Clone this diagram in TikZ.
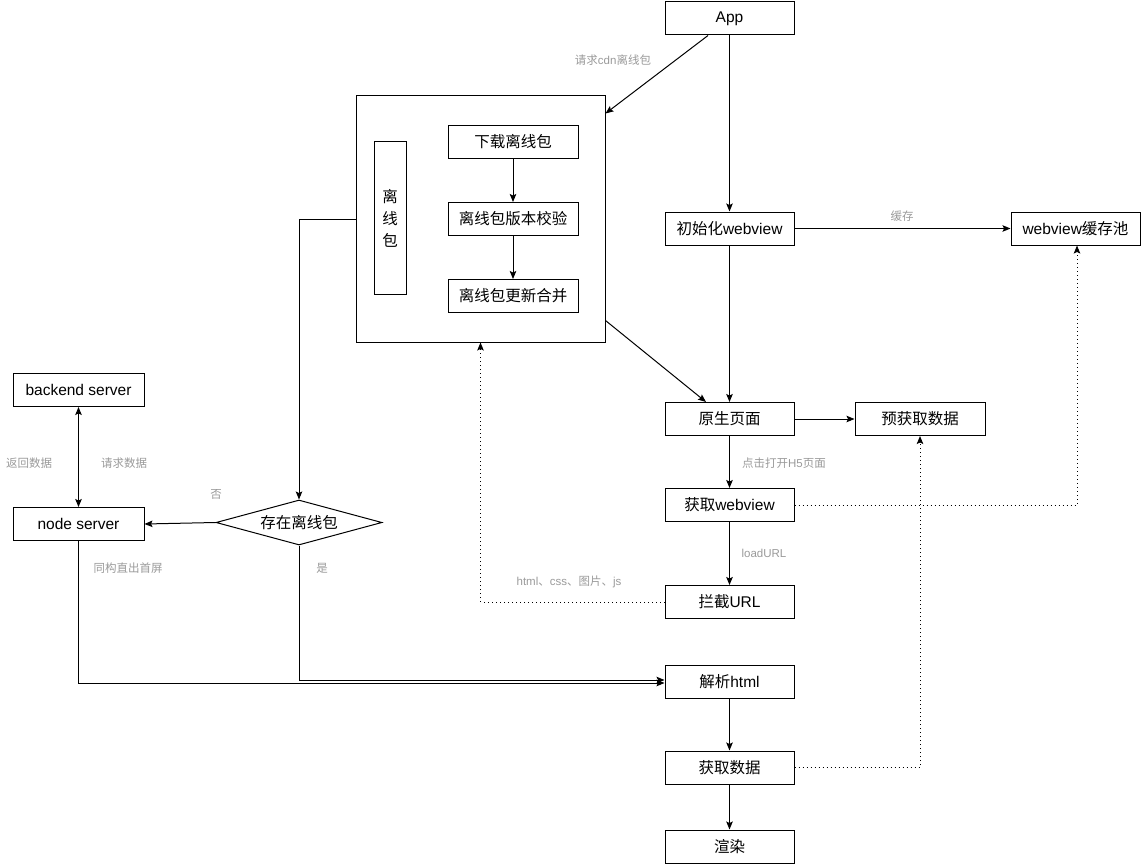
\documentclass[tikz,border=0pt]{standalone}
\usepackage{fontspec}
\setmainfont{Liberation Sans}
\newfontfamily\cjk{Noto Sans CJK SC}
\usetikzlibrary{arrows.meta,shapes.geometric}
\definecolor{lblgray}{HTML}{9A9A9A}
\begin{document}
\begin{tikzpicture}[x=1pt,y=-1pt,
  box/.style={draw,line width=1pt,minimum width=129pt,minimum height=33pt,inner sep=0pt,font=\fontsize{15.5}{18}\selectfont},
  arr/.style={line width=1pt,-{Stealth[length=8pt,width=6.5pt,inset=1.5pt]}},
  dual/.style={line width=1pt,{Stealth[length=8pt,width=6.5pt,inset=1.5pt]}-{Stealth[length=8pt,width=6.5pt,inset=1.5pt]}},
  dots/.style={line width=1pt,dash pattern=on 1pt off 3pt},
  lbl/.style={text=lblgray,font=\fontsize{11.5}{13}\selectfont,inner sep=0pt}]
\useasboundingbox (0,0) rectangle (1142,864);
% nodes
\node[box] (app) at (729.5,18.5) {App};
\node[draw,line width=1pt,minimum width=249pt,minimum height=246pt,inner sep=0pt] (cont) at (480.5,219) {};
\node[draw,line width=1pt,minimum width=32pt,minimum height=153pt,inner sep=0pt,align=center,font=\fontsize{15.5}{22}\selectfont\cjk] (pkg) at (390,218) {离\\线\\包};
\node[box,minimum width=130pt,font=\fontsize{15.5}{18}\selectfont\cjk] (dl) at (513,142) {下载离线包};
\node[box,minimum width=130pt,font=\fontsize{15.5}{18}\selectfont\cjk] (ver) at (513,219) {离线包版本校验};
\node[box,minimum width=130pt,font=\fontsize{15.5}{18}\selectfont\cjk] (merge) at (513,296) {离线包更新合并};
\node[box] (init) at (729.5,228.5) {{\cjk 初始化}webview};
\node[box] (pool) at (1075.5,228.5) {webview{\cjk 缓存池}};
\node[box,font=\fontsize{15.5}{18}\selectfont\cjk] (native) at (729.5,419) {原生页面};
\node[box,minimum width=130pt,font=\fontsize{15.5}{18}\selectfont\cjk] (prefetch) at (920,419) {预获取数据};
\node[box] (getwv) at (729.5,505) {{\cjk 获取}webview};
\node[box] (intercept) at (729.5,602) {{\cjk 拦截}URL};
\node[box] (html) at (729.5,682) {{\cjk 解析}html};
\node[box,font=\fontsize{15.5}{18}\selectfont\cjk] (getdata) at (729.5,767.5) {获取数据};
\node[box,font=\fontsize{15.5}{18}\selectfont\cjk] (render) at (729.5,846.5) {渲染};
\node[box,minimum width=131pt] (backend) at (78.5,390) {backend server};
\node[box,minimum width=131pt] (nodes) at (78.5,524) {node server};
\node[draw,line width=1pt,diamond,aspect=3.69,minimum width=166pt,minimum height=45pt,inner sep=0pt,font=\fontsize{15.5}{18}\selectfont\cjk] (dia) at (299,522.5) {存在离线包};
% labels
\node[lbl] (l1) at (613,60) {{\cjk 请求}cdn{\cjk 离线包}};
\node[lbl,font=\fontsize{11.5}{13}\selectfont\cjk] (l2) at (902,216) {缓存};
\node[lbl] (l3) at (784,463) {{\cjk 点击打开}H5{\cjk 页面}};
\node[lbl] (l4) at (764,553) {loadURL};
\node[lbl] (l5) at (569,582) {html{\cjk 、}css{\cjk 、图片、}js};
\node[lbl,font=\fontsize{11.5}{13}\selectfont\cjk] (l6) at (29,463) {返回数据};
\node[lbl,font=\fontsize{11.5}{13}\selectfont\cjk] (l7) at (124,463) {请求数据};
\node[lbl,font=\fontsize{11.5}{13}\selectfont\cjk] (l8) at (216,494) {否};
\node[lbl,font=\fontsize{11.5}{13}\selectfont\cjk] (l9) at (128,568) {同构直出首屏};
\node[lbl,font=\fontsize{11.5}{13}\selectfont\cjk] (l10) at (322,568) {是};
% connectors
\draw[arr] ([xshift=-21.5pt]app.south) -- ([yshift=-18pt]cont.north east);
\draw[arr] (app.south) -- (init.north);
\draw[arr] (dl.south) -- (ver.north);
\draw[arr] (ver.south) -- (merge.north);
\draw[arr] (init.south) -- (native.north);
\draw[arr] ([yshift=22pt]cont.south east) -- ([xshift=-23.5pt]native.north);
\draw[arr] (init.east) -- (pool.west);
\draw[arr] (native.east) -- (prefetch.west);
\draw[arr] (native.south) -- (getwv.north);
\draw[arr] (getwv.south) -- (intercept.north);
\draw[arr] (html.south) -- (getdata.north);
\draw[arr] (getdata.south) -- (render.north);
\draw[arr,dots] (getwv.east) -| ([xshift=1.5pt]pool.south);
\draw[arr,dots] (intercept.west) -| (cont.south);
\draw[arr,dots] (getdata.east) -| (prefetch.south);
\draw[arr] (cont.west) -| (dia.north);
\draw[arr] (dia.west) -- (nodes.east);
\draw[dual] (backend.south) -- (nodes.north);
\draw[arr] (nodes.south) |- ([yshift=-1pt]html.west);
\draw[arr] (dia.south) |- ([yshift=2pt]html.west);
\end{tikzpicture}
\end{document}
